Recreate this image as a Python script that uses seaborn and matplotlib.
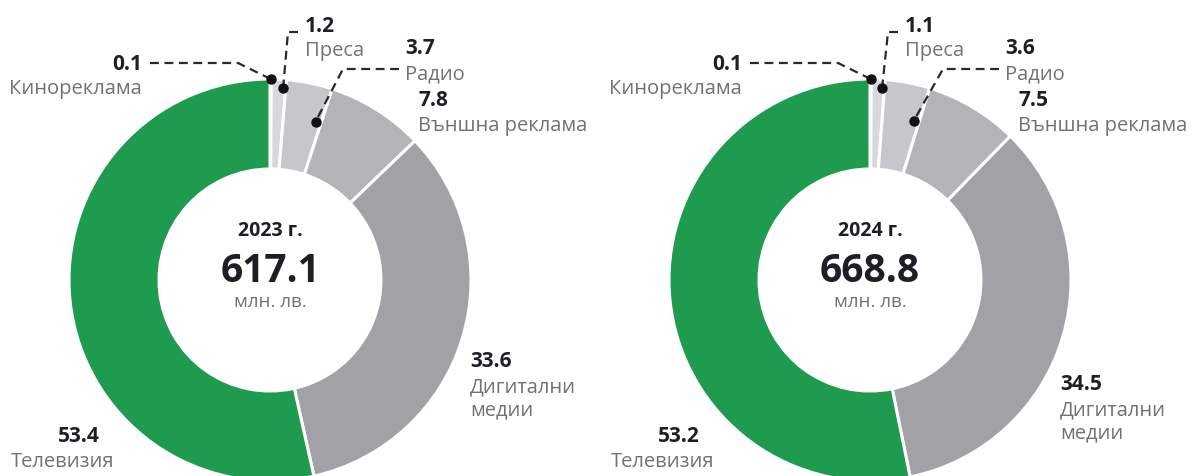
import numpy as np
import matplotlib
matplotlib.use("Agg")
import matplotlib.pyplot as plt
import seaborn as sns

# Advertising market structure, % of total spend
categories = ["Кинореклама", "Преса", "Радио", "Външна реклама", "Дигитални\nмедии", "Телевизия"]
share_2023 = [0.1, 1.2, 3.7, 7.8, 33.6, 53.4]
share_2024 = [0.1, 1.1, 3.6, 7.5, 34.5, 53.2]
year_labels = ["2023 г.", "2024 г."]
totals = [617.1, 668.8]
unit_label = "млн. лв."

sns.set_theme(style="white")
plt.rcParams["font.family"] = ["Open Sans", "DejaVu Sans"]

W, H = 1192, 477
fig = plt.figure(figsize=(W / 100, H / 100), dpi=100)
ax = fig.add_axes([0, 0, 1, 1])

palette = sns.color_palette(["#e6e6ea", "#d8d8dc", "#c7c7cb", "#b4b4b8", "#a1a1a6", "#1f9b4f"])

NUM_C = "#1e1e26"
LBL_C = "#727272"
LINE_C = "#2a2a2a"

R_OUT, RING = 201, 90
CY_PX = 281


def P(x, y):
    """Pixel position measured from the top-left corner -> data coords."""
    return x, H - y


def anchor(values, idx, frac, rfrac, cx):
    total = sum(values)
    start = sum(values[:idx]) / total * 360
    span = values[idx] / total * 360
    theta = np.deg2rad(start + frac * span)
    r = R_OUT * rfrac
    return cx + r * np.sin(theta), (H - CY_PX) + r * np.cos(theta)


def draw_donut(values, cx, year, total, layout):
    ax.pie(values, colors=palette, startangle=90, counterclock=False,
           radius=R_OUT, center=(cx, H - CY_PX),
           wedgeprops=dict(width=RING, edgecolor="white", linewidth=2.2))

    # centre captions
    ax.text(*P(cx, 231), year, ha="center", va="center", fontsize=14,
            fontweight="bold", color=NUM_C)
    ax.text(*P(cx, 272), f"{total:.1f}", ha="center", va="center", fontsize=28,
            fontweight="bold", color=NUM_C)
    ax.text(*P(cx, 302), unit_label, ha="center", va="center", fontsize=13.5,
            color=LBL_C)

    # value + category labels
    for i, (name, val) in enumerate(zip(categories, values)):
        x, y, ha = layout[i]
        ax.text(*P(x, y), f"{val:.1f}", ha=ha, va="center", fontsize=15,
                fontweight="bold", color=NUM_C)
        lx = x + (14 if (ha == "right" and i == 5) else 0)
        n_lines = name.count("\n") + 1
        ly = y + 25 + 12 * (n_lines - 1)
        ax.text(*P(lx, ly), name, ha=ha, va="center",
                fontsize=14.5, color=LBL_C, linespacing=1.18)

    # leader lines with dots
    dash = dict(color=LINE_C, lw=1.6, ls=(0, (4, 2.5)), solid_capstyle="butt")
    a0 = anchor(values, 0, 0.5, 1.0, cx)
    ax.plot([cx - 120, cx - 32, a0[0]], [H - 64, H - 64, a0[1]], **dash)
    a1 = anchor(values, 1, 0.82, 0.955, cx)
    ax.plot([cx + 28, cx + 18, a1[0]], [H - 33, H - 33, a1[1]], **dash)
    a2 = anchor(values, 2, 0.85, 0.82, cx)
    ax.plot([cx + 129, cx + 73, a2[0]], [H - 70, H - 70, a2[1]], **dash)
    for a in (a0, a1, a2):
        ax.plot(*a, "o", color="#111111", ms=6.5, zorder=5)


def make_layout(cx, dig_dx, dig_y):
    return [
        (cx - 128, 64, "right"),
        (cx + 35, 26, "left"),
        (cx + 135, 49, "left"),
        (cx + 148, 101, "left"),
        (cx + dig_dx, dig_y, "left"),
        (cx - 170, 437, "right"),
    ]


draw_donut(share_2023, 270, year_labels[0], totals[0], make_layout(270, 200, 362))
draw_donut(share_2024, 870, year_labels[1], totals[1], make_layout(870, 190, 385))

ax.set_xlim(0, W)
ax.set_ylim(0, H)
ax.set_aspect("equal")
ax.axis("off")

fig.savefig("out.png", dpi=100, facecolor="white")
